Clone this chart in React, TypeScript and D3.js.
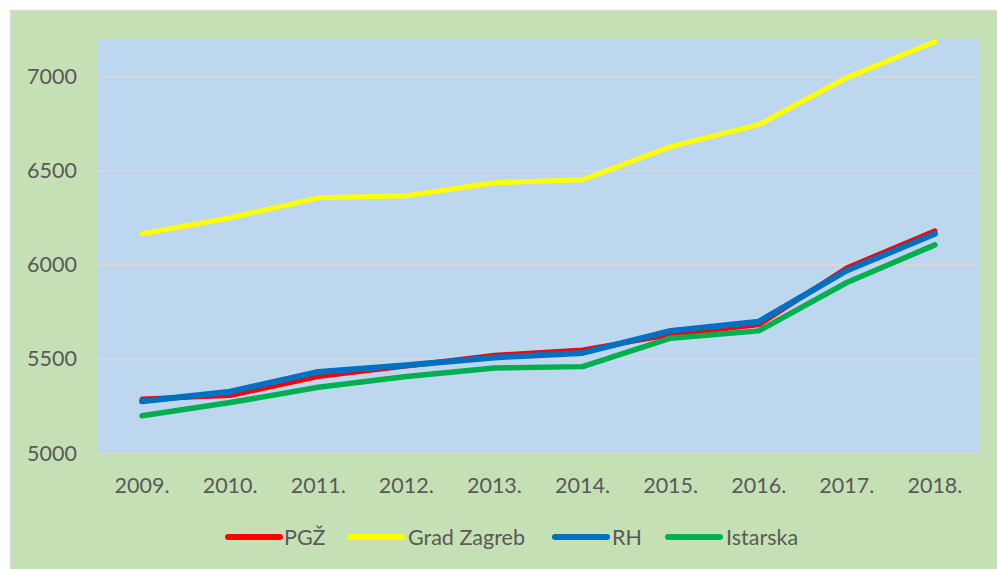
import React from "react";
import * as d3 from "d3";

const years = ["2009.", "2010.", "2011.", "2012.", "2013.", "2014.", "2015.", "2016.", "2017.", "2018."];
const pgz = [5287, 5305, 5406, 5462, 5519, 5548, 5628, 5681, 5984, 6181];
const zagreb = [6165, 6250, 6356, 6367, 6436, 6452, 6628, 6745, 6995, 7186];
const rh = [5275, 5326, 5431, 5466, 5508, 5532, 5649, 5698, 5970, 6165];
const istarska = [5198, 5268, 5349, 5406, 5452, 5459, 5610, 5649, 5906, 6106];
const yTicks = [5000, 5500, 6000, 6500, 7000];

const seriesList = [
  { name: "PGŽ", values: pgz, color: "#FF0000", width: 5 },
  { name: "Grad Zagreb", values: zagreb, color: "#FFFF00", width: 5 },
  { name: "RH", values: rh, color: "#0070C0", width: 6 },
  { name: "Istarska", values: istarska, color: "#00B050", width: 5.5 },
];
const drawOrder = [0, 1, 2, 3];

export default function App() {
  const W = 997, H = 569;
  const plot = { left: 98, right: 979, top: 39, bottom: 453 };
  const x = d3.scaleBand<string>().domain(years).range([plot.left, plot.right]);
  const y = d3.scaleLinear().domain([5000, 7200]).range([plot.bottom, plot.top]);
  const line = d3
    .line<number>()
    .x((_, i) => (x(years[i]) as number) + x.bandwidth() / 2)
    .y((v) => y(v));
  const font = "Lato, 'Open Sans', sans-serif";
  const textColor = "#595959";
  const fs = 21.5;

  const legendItems = [
    { lx: 228, tx: 284 },
    { lx: 350, tx: 408 },
    { lx: 555, tx: 612 },
    { lx: 668, tx: 726 },
  ];
  const legendY = 537;

  return (
    <svg width={W} height={H} style={{ position: "absolute", left: 0, top: 0 }}>
      <rect x={10.5} y={10.5} width={990} height={562} fill="#C5E0B4" stroke="#D9D9D9" strokeWidth={1.5} />
      <rect x={plot.left} y={plot.top} width={plot.right - plot.left} height={plot.bottom - plot.top} fill="#BDD7EE" />
      {yTicks.map((t) => (
        <g key={t}>
          <line x1={plot.left} x2={plot.right} y1={y(t)} y2={y(t)} stroke="#D9D9D9" strokeWidth={1.5} />
          <text x={77} y={y(t)} dy="0.35em" textAnchor="end" fontFamily={font} fontSize={fs} fill={textColor}>
            {t}
          </text>
        </g>
      ))}
      {years.map((yr) => (
        <text
          key={yr}
          x={(x(yr) as number) + x.bandwidth() / 2}
          y={485}
          dy="0.35em"
          textAnchor="middle"
          fontFamily={font}
          fontSize={fs}
          fill={textColor}
        >
          {yr}
        </text>
      ))}
      {drawOrder.map((i) => {
        const s = seriesList[i];
        return (
          <path
            key={s.name}
            d={line(s.values) || ""}
            fill="none"
            stroke={s.color}
            strokeWidth={s.width}
            strokeLinecap="round"
            strokeLinejoin="round"
          />
        );
      })}
      {seriesList.map((s, i) => (
        <g key={s.name}>
          <line
            x1={legendItems[i].lx}
            x2={legendItems[i].lx + 52}
            y1={legendY}
            y2={legendY}
            stroke={s.color}
            strokeWidth={6}
            strokeLinecap="round"
          />
          <text x={legendItems[i].tx} y={legendY} dy="0.35em" fontFamily={font} fontSize={fs} fill={textColor}>
            {s.name}
          </text>
        </g>
      ))}
    </svg>
  );
}
